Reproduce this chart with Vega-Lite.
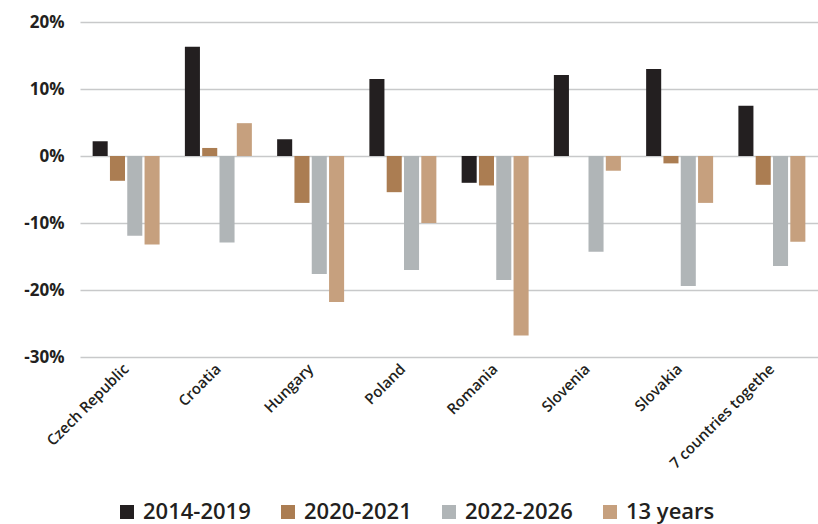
{
  "$schema": "https://vega.github.io/schema/vega-lite/v6.json",
  "autosize": "none",
  "width": 738,
  "height": 335,
  "padding": {"left": 80, "top": 22, "right": 0, "bottom": 167},
  "background": "white",
  "data": {
    "values": [
      {"country": "Czech Republic", "period": "2014-2019", "value": 2.2},
      {"country": "Czech Republic", "period": "2020-2021", "value": -3.7},
      {"country": "Czech Republic", "period": "2022-2026", "value": -11.9},
      {"country": "Czech Republic", "period": "13 years", "value": -13.2},
      {"country": "Croatia", "period": "2014-2019", "value": 16.3},
      {"country": "Croatia", "period": "2020-2021", "value": 1.2},
      {"country": "Croatia", "period": "2022-2026", "value": -12.9},
      {"country": "Croatia", "period": "13 years", "value": 4.9},
      {"country": "Hungary", "period": "2014-2019", "value": 2.5},
      {"country": "Hungary", "period": "2020-2021", "value": -7.0},
      {"country": "Hungary", "period": "2022-2026", "value": -17.6},
      {"country": "Hungary", "period": "13 years", "value": -21.8},
      {"country": "Poland", "period": "2014-2019", "value": 11.5},
      {"country": "Poland", "period": "2020-2021", "value": -5.4},
      {"country": "Poland", "period": "2022-2026", "value": -17.0},
      {"country": "Poland", "period": "13 years", "value": -10.0},
      {"country": "Romania", "period": "2014-2019", "value": -4.0},
      {"country": "Romania", "period": "2020-2021", "value": -4.4},
      {"country": "Romania", "period": "2022-2026", "value": -18.5},
      {"country": "Romania", "period": "13 years", "value": -26.8},
      {"country": "Slovenia", "period": "2014-2019", "value": 12.1},
      {"country": "Slovenia", "period": "2020-2021", "value": 0},
      {"country": "Slovenia", "period": "2022-2026", "value": -14.3},
      {"country": "Slovenia", "period": "13 years", "value": -2.2},
      {"country": "Slovakia", "period": "2014-2019", "value": 13.0},
      {"country": "Slovakia", "period": "2020-2021", "value": -1.1},
      {"country": "Slovakia", "period": "2022-2026", "value": -19.4},
      {"country": "Slovakia", "period": "13 years", "value": -7.0},
      {"country": "7 countries togethe", "period": "2014-2019", "value": 7.5},
      {"country": "7 countries togethe", "period": "2020-2021", "value": -4.3},
      {"country": "7 countries togethe", "period": "2022-2026", "value": -16.4},
      {"country": "7 countries togethe", "period": "13 years", "value": -12.8}
    ]
  },
  "mark": {"type": "bar"},
  "encoding": {
    "x": {
      "field": "country",
      "type": "nominal",
      "sort": null,
      "scale": {"paddingInner": 0, "paddingOuter": 0},
      "axis": {
        "title": null,
        "domain": false,
        "ticks": false,
        "grid": false,
        "labelAngle": -45,
        "labelAlign": "right",
        "labelBaseline": "middle",
        "labelFont": "Open Sans",
        "labelFontWeight": 600,
        "labelFontSize": 15,
        "labelColor": "#231f20",
        "labelPadding": 9,
        "labelOffset": 0
      }
    },
    "xOffset": {
      "field": "period",
      "type": "nominal",
      "sort": ["2014-2019", "2020-2021", "2022-2026", "13 years"],
      "scale": {"paddingInner": 0.13, "paddingOuter": 0.73}
    },
    "y": {
      "field": "value",
      "type": "quantitative",
      "scale": {"domain": [-30, 20], "nice": false},
      "axis": {
        "title": null,
        "values": [-30, -20, -10, 0, 10, 20],
        "labelExpr": "datum.value + '%'",
        "domain": false,
        "ticks": false,
        "gridColor": "#c8c9ca",
        "gridWidth": 1.5,
        "labelFont": "Open Sans",
        "labelFontWeight": "bold",
        "labelFontSize": 17,
        "labelColor": "#231f20",
        "labelPadding": 16
      }
    },
    "color": {
      "field": "period",
      "type": "nominal",
      "sort": ["2014-2019", "2020-2021", "2022-2026", "13 years"],
      "scale": {
        "domain": ["2014-2019", "2020-2021", "2022-2026", "13 years"],
        "range": ["#231f20", "#ab7d52", "#b0b5b7", "#c6a07e"]
      },
      "legend": {
        "title": null,
        "orient": "none",
        "direction": "horizontal",
        "legendX": 36,
        "legendY": 479,
        "symbolType": "square",
        "symbolSize": 196,
        "symbolStrokeWidth": 0,
        "labelFont": "Open Sans",
        "labelFontWeight": 600,
        "labelFontSize": 22,
        "labelColor": "#231f20",
        "labelOffset": 5,
        "columnPadding": 26
      }
    }
  },
  "config": {
    "view": {"stroke": null}
  }
}
